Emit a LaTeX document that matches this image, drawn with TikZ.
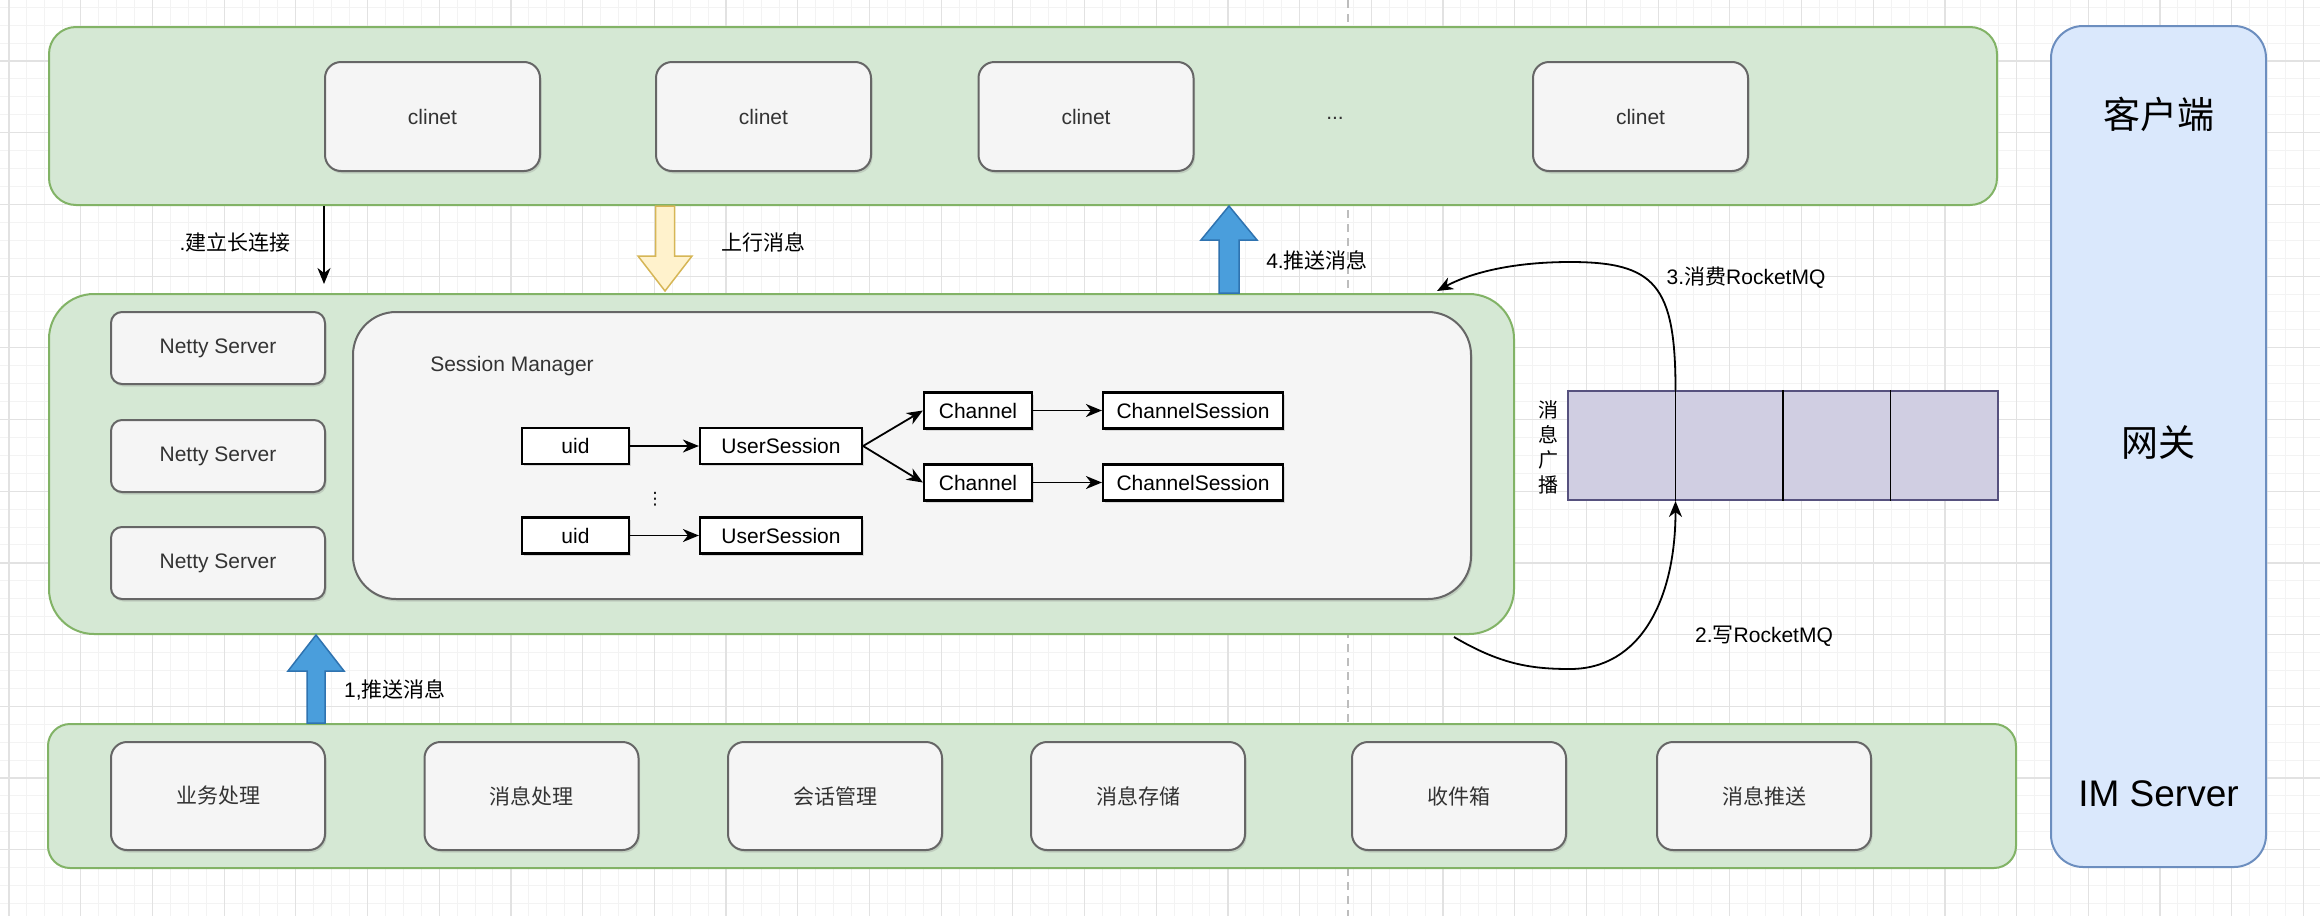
\documentclass[tikz,border=0pt]{standalone}
\usepackage{fontspec}
\setmainfont{Liberation Sans}
\newfontfamily\cjk{Noto Sans CJK SC}
\newfontfamily\djv{DejaVu Sans}
\usetikzlibrary{arrows.meta,shadows}
\definecolor{gfill}{HTML}{D5E8D4}
\definecolor{gline}{HTML}{82B366}
\definecolor{bfill}{HTML}{DAE8FC}
\definecolor{bline}{HTML}{6C8EBF}
\definecolor{kfill}{HTML}{F5F5F5}
\definecolor{kline}{HTML}{666666}
\definecolor{ktext}{HTML}{333333}
\definecolor{qfill}{HTML}{D0CEE2}
\definecolor{qline}{HTML}{56517E}
\definecolor{yfill}{HTML}{FFF2CC}
\definecolor{yline}{HTML}{D6B656}
\definecolor{afill}{HTML}{4A9EDC}
\definecolor{aline}{HTML}{2F73B0}
\definecolor{gridmin}{HTML}{F3F3F3}
\definecolor{gridmaj}{HTML}{E2E2E2}
\definecolor{pagebrk}{HTML}{BDBDBD}
\newcommand{\fsz}{\fontsize{21}{25}\selectfont}
\newcommand{\fbig}{\fontsize{37}{44}\selectfont}
\tikzset{
  grn/.style={draw=gline, fill=gfill, line width=2pt, inner sep=0pt},
  bluecol/.style={draw=bline, fill=bfill, line width=2pt, inner sep=0pt, font=\fbig},
  gbox/.style={draw=kline, fill=kfill, line width=2pt, inner sep=0pt, text=ktext, font=\fsz,
    drop shadow={shadow xshift=1.5pt, shadow yshift=-2.5pt, opacity=0.25}},
  wbox/.style={draw=black, fill=white, line width=2.2pt, inner sep=0pt, font=\fsz,
    minimum height=36, drop shadow={shadow xshift=1.5pt, shadow yshift=-2pt, opacity=0.25}},
  conn/.style={draw=black, line width=1.8pt, -{Stealth[length=16pt,width=13pt,inset=5pt]}},
  lbl/.style={inner sep=0pt, font=\fsz, text=black},
  bluearr/.style={draw=aline, fill=afill, line width=1.5pt, line join=miter},
  yelarr/.style={draw=yline, fill=yfill, line width=1.5pt, line join=miter},
  gridminor/.style={draw=gridmin, line width=1pt},
  gridmajor/.style={draw=gridmaj, line width=1.2pt},
}
\begin{document}
\begin{tikzpicture}[x=1pt,y=-1pt]
\useasboundingbox[fill=white] (0,0) rectangle (2320,916);
% background grid
\foreach \i in {-1,...,129} {\draw[gridminor] ({9+17.925*\i},0) -- ({9+17.925*\i},916);}
\foreach \j in {-3,...,47} {\draw[gridminor] (0,{61+17.925*\j}) -- (2320,{61+17.925*\j});}
\foreach \i in {0,...,32} {\draw[gridmajor] ({9+71.7*\i},0) -- ({9+71.7*\i},916);}
\foreach \j in {0,...,11} {\draw[gridmajor] (0,{61+71.7*\j}) -- (2320,{61+71.7*\j});}
\draw[pagebrk, line width=1.6pt, dash pattern=on 8pt off 6pt] (1348,0) -- (1348,916);

% client layer
\node[grn, minimum width=1948, minimum height=178, rounded corners=27] (top) at (1023,116) {};
\node[gbox, minimum width=215, minimum height=109, rounded corners=16] (c1) at (432.5,116.5) {clinet};
\node[gbox, minimum width=215, minimum height=109, rounded corners=16] (c2) at (763.5,116.5) {clinet};
\node[gbox, minimum width=215, minimum height=109, rounded corners=16] (c3) at (1086,116.5) {clinet};
\node[lbl, text=ktext] (cdots) at (1335,118) {...};
\node[gbox, minimum width=215, minimum height=109, rounded corners=16] (c5) at (1640.5,116.5) {clinet};

% right column
\node[bluecol, minimum width=215, minimum height=841, rounded corners=32] (col) at (2158.5,446.5) {};
\node[lbl, font=\fbig\cjk] (t1) at (2158.5,114) {客户端};
\node[lbl, font=\fbig\cjk] (t2) at (2158.5,442) {网关};
\node[lbl, font=\fbig] (t3) at (2158.5,794) {IM Server};

% gateway layer
\node[grn, minimum width=1465, minimum height=340, rounded corners=45] (mid) at (781.5,464) {};
\node[gbox, minimum width=214, minimum height=72, rounded corners=11] (n1) at (218,348) {Netty Server};
\node[gbox, minimum width=214, minimum height=72, rounded corners=11] (n2) at (218,456) {Netty Server};
\node[gbox, minimum width=214, minimum height=72, rounded corners=11] (n3) at (218,563) {Netty Server};
\node[gbox, minimum width=1118, minimum height=287, rounded corners=43] (sm) at (912,455.5) {};
\node[lbl, text=ktext] (smt) at (512,366) {Session Manager};

\node[wbox, minimum width=107] (u1) at (575.5,446) {uid};
\node[wbox, minimum width=162] (us1) at (781,446) {UserSession};
\node[wbox, minimum width=108] (ch1) at (978,410.5) {Channel};
\node[wbox, minimum width=108] (ch2) at (978,482.5) {Channel};
\node[wbox, minimum width=180] (cs1) at (1193,410.5) {ChannelSession};
\node[wbox, minimum width=180] (cs2) at (1193,482.5) {ChannelSession};
\node[lbl, font=\fontsize{17}{20}\selectfont\djv] (vd) at (655,499) {⋮};
\node[wbox, minimum width=107] (u2) at (575.5,535.5) {uid};
\node[wbox, minimum width=162] (us2) at (781,535.5) {UserSession};

\draw[conn] (u1) -- (us1);
\draw[conn] (us1.east) -- (ch1.west);
\draw[conn] (us1.east) -- (ch2.west);
\draw[conn] (ch1) -- (cs1);
\draw[conn] (ch2) -- (cs2);
\draw[conn] (u2) -- (us2);

% message queue
\node[draw=qline, fill=qfill, line width=2pt, minimum width=430, minimum height=109, inner sep=0pt] (q) at (1783,445.5) {};
\draw[black, line width=1.8pt] (q.north -| 1675.5,0) -- (q.south -| 1675.5,0);
\draw[black, line width=1.8pt] (q.north) -- (q.south);
\draw[black, line width=1.8pt] (q.north -| 1890.5,0) -- (q.south -| 1890.5,0);
\node[lbl, font=\fontsize{20}{25}\selectfont\cjk, align=center] (qt) at (1548,447) {消\\息\\广\\播};

% bottom layer
\node[grn, minimum width=1968, minimum height=144, rounded corners=22] (bot) at (1032,796) {};
\node[gbox, minimum width=214, minimum height=108, rounded corners=16, font=\fsz\cjk] (b1) at (218,796) {业务处理};
\node[gbox, minimum width=214, minimum height=108, rounded corners=16, font=\fsz\cjk] (b2) at (531.5,796) {消息处理};
\node[gbox, minimum width=214, minimum height=108, rounded corners=16, font=\fsz\cjk] (b3) at (835,796) {会话管理};
\node[gbox, minimum width=214, minimum height=108, rounded corners=16, font=\fsz\cjk] (b4) at (1138,796) {消息存储};
\node[gbox, minimum width=214, minimum height=108, rounded corners=16, font=\fsz\cjk] (b5) at (1459,796) {收件箱};
\node[gbox, minimum width=214, minimum height=108, rounded corners=16, font=\fsz\cjk] (b6) at (1764,796) {消息推送};

% connectors between layers
\coordinate (e1) at (324,284);
\draw[conn] (top.south -| e1) -- (e1);
\node[lbl] (l1) at (235,242) {.{\cjk 建立长连接}};

\draw[yelarr] (top.south -| 655.5,0) -- (655.5,256) -- (638,256) -- (665,291) -- (692,256) -- (674.5,256) -- (top.south -| 674.5,0) -- cycle;
\node[lbl] (l2) at (763,242) {{\cjk 上行消息}};

\draw[bluearr] (mid.north -| 1219,0) -- (1219,240) -- (1201,240) -- (top.south -| 1229,0) -- (1257,240) -- (1239,240) -- (mid.north -| 1239,0) -- cycle;
\node[lbl] (l4) at (1317,260) {4.{\cjk 推送消息}};

\draw[bluearr] (bot.north -| 307,0) -- (307,671) -- (288,671) -- (mid.south -| 316,0) -- (344,671) -- (325,671) -- (bot.north -| 325,0) -- cycle;
\node[lbl] (l5) at (395,690) {1,{\cjk 推送消息}};

\coordinate (w0) at (1454,637);
\coordinate (w1) at (1570,669);
\coordinate (qb) at (q.south -| 1675.5,0);
\draw[conn] (w0) .. controls (1500,664) and (1530,669) .. (w1) .. controls (1640,669) and (1675.5,600) .. (qb);
\node[lbl] (l6) at (1764,636) {2.{\cjk 写}RocketMQ};

\coordinate (qt0) at (q.north -| 1675.5,0);
\coordinate (r1) at (1570,262);
\coordinate (r2) at (1437,291);
\draw[conn] (qt0) .. controls (1675.5,285) and (1655,262) .. (r1) .. controls (1515,262) and (1472,272) .. (r2);
\node[lbl] (l7) at (1746,278) {3.{\cjk 消费}RocketMQ};
\end{tikzpicture}
\end{document}
